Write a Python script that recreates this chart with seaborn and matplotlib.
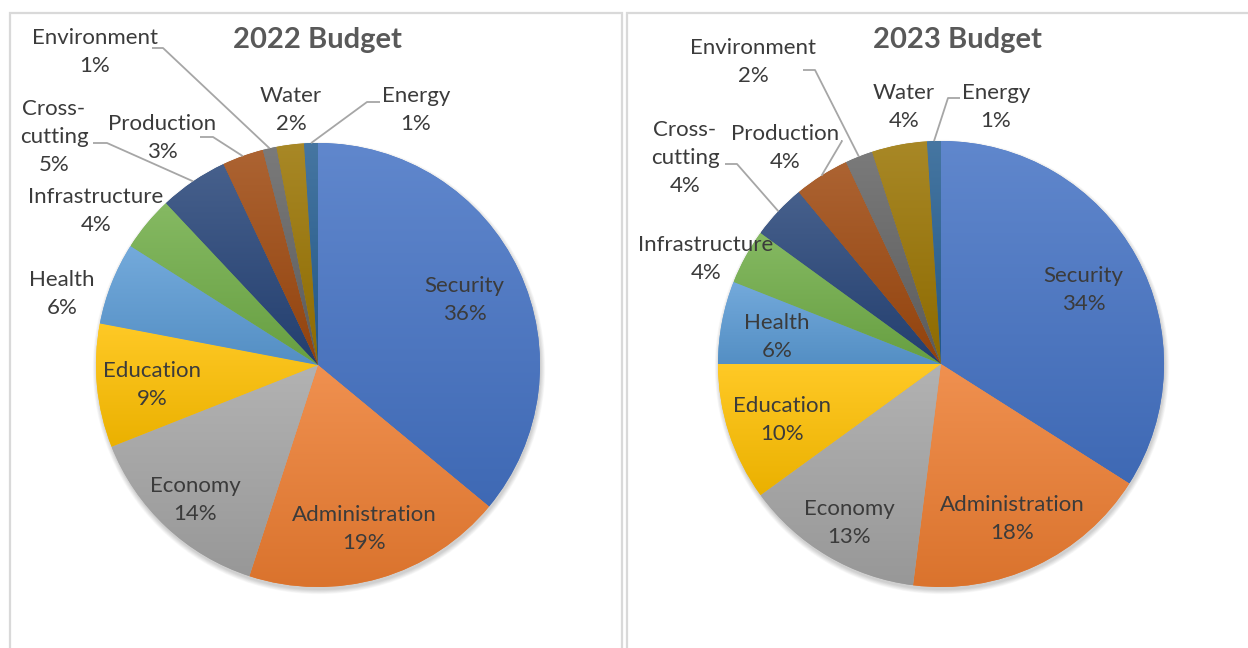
import numpy as np
import matplotlib
matplotlib.use("Agg")
import matplotlib.pyplot as plt
import matplotlib.colors as mcolors
from matplotlib.patches import Rectangle, Circle
import seaborn as sns

# ---- data -------------------------------------------------------------
categories = ["Security", "Administration", "Economy", "Education", "Health",
              "Infrastructure", "Cross-cutting", "Production", "Environment",
              "Water", "Energy"]
budget_2022 = [36, 19, 14, 9, 6, 4, 5, 3, 1, 2, 1]
budget_2023 = [34, 18, 13, 10, 6, 4, 4, 4, 2, 4, 1]
titles = ["2022 Budget", "2023 Budget"]

slice_colors = ["#4472C4", "#ED7D31", "#A5A5A5", "#FFC000", "#5B9BD5",
                "#70AD47", "#264478", "#9E480E", "#636363", "#997300",
                "#255E91"]

# ---- layout (pixel space, y measured from the top) ---------------------
W, H = 1248, 648
sns.set_theme(style="white")
plt.rcParams["font.family"] = ["Lato", "DejaVu Sans"]

TEXT = "#3B3B3B"
TITLE = "#595959"
LEADER = "#A6A6A6"
LABEL_SIZE = 16
LINE_SPACING = 1.5

charts = [
    dict(values=budget_2022, title=titles[0], center=(318, 365), radius=222,
         title_xy=(317, 40), panel=(10, 13, 612),
         outside={
             "Health": ((62, 294), None),
             "Infrastructure": ((96, 211), None),
             "Cross-cutting": ((54, 137), [(93, 143), (107, 143)]),
             "Production": ((162, 138), [(200, 137), (213, 137)]),
             "Environment": ((95, 52), [(152, 48), (163, 48)]),
             "Water": ((291, 110), None),
             "Energy": ((416, 110), [(380, 102), (367, 102)]),
         }),
    dict(values=budget_2023, title=titles[1], center=(941, 364), radius=223,
         title_xy=(957, 40), panel=(627, 13, 640),
         outside={
             "Infrastructure": ((706, 259), None),
             "Cross-cutting": ((685, 158), [(725, 164), (737, 164)]),
             "Production": ((785, 148), [(841, 141), (842, 141)]),
             "Environment": ((753, 62), [(803, 70), (815, 70)]),
             "Water": ((904, 107), None),
             "Energy": ((996, 107), [(960, 98), (948, 98)]),
         }),
]
# radial position of labels that sit inside their slice (fraction of radius)
inner_radius = {"Economy": 0.81, "Security": 0.73}


def up(y):
    return H - y


def display_name(cat):
    return "Cross-\ncutting" if cat == "Cross-cutting" else cat


def tint(color, amount):
    rgb = np.array(mcolors.to_rgb(color))
    return rgb + (1 - rgb) * amount


def shade(color, amount):
    return np.array(mcolors.to_rgb(color)) * (1 - amount)


fig = plt.figure(figsize=(W / 100, H / 100), dpi=100)
ax = fig.add_axes([0, 0, 1, 1])

for ch in charts:
    cx, cy = ch["center"]
    R = ch["radius"]
    px, py, pw = ch["panel"]
    # chart panel frame
    ax.add_patch(Rectangle((px, up(H + 20)), pw, (H + 20) - py,
                           facecolor="white", edgecolor="#D9D9D9", lw=1.6,
                           zorder=0))
    # soft drop shadow under the pie
    for i in range(8):
        ax.add_patch(Circle((cx + 1, up(cy) - 3), R + 0.6 * i,
                            facecolor="#000000", edgecolor="none",
                            alpha=0.025, zorder=1))

    wedges, _ = ax.pie(ch["values"], colors=slice_colors, startangle=90,
                       counterclock=False, center=(cx, up(cy)), radius=R,
                       wedgeprops=dict(edgecolor="none", linewidth=0))

    # vertical gradient fill inside each wedge
    for w, col in zip(wedges, slice_colors):
        w.set_zorder(2)
        ext = w.get_path().get_extents()
        top = tint(col, 0.15)
        bot = shade(col, 0.08)
        t = np.linspace(0, 1, 256)[:, None]
        grad = (top[None, :] * (1 - t) + bot[None, :] * t)[:, None, :]
        im = ax.imshow(grad, extent=(ext.x0, ext.x1, ext.y0, ext.y1),
                       origin="upper", aspect="auto", interpolation="bilinear",
                       zorder=3)
        im.set_clip_path(w)

    total = float(sum(ch["values"]))
    cum = 0.0
    for cat, v, w in zip(categories, ch["values"], wedges):
        mid = np.deg2rad(90 - (cum + v / 2) / total * 360)
        cum += v
        label = f"{display_name(cat)}\n{v}%"
        if cat in ch["outside"]:
            (lx, ly), leader = ch["outside"][cat]
            ax.text(lx, up(ly), label, ha="center", va="center",
                    fontsize=LABEL_SIZE, color=TEXT, linespacing=LINE_SPACING,
                    zorder=6)
            if leader is not None:
                ax_pt = (cx + R * np.cos(mid), up(cy) + R * np.sin(mid))
                xs = [leader[0][0], leader[1][0], ax_pt[0]]
                ys = [up(leader[0][1]), up(leader[1][1]), ax_pt[1]]
                ax.plot(xs, ys, color=LEADER, lw=1.3, zorder=5,
                        solid_capstyle="butt")
        else:
            f = inner_radius.get(cat, 0.75)
            ax.text(cx + f * R * np.cos(mid), up(cy) + f * R * np.sin(mid) - 4,
                    label, ha="center", va="center", fontsize=LABEL_SIZE,
                    color=TEXT, linespacing=LINE_SPACING, zorder=6)

    tx, ty = ch["title_xy"]
    ax.text(tx, up(ty), ch["title"], ha="center", va="center", fontsize=21,
            fontweight="bold", color=TITLE, zorder=6)

ax.set_xlim(0, W)
ax.set_ylim(0, H)
ax.set_aspect("equal", adjustable="box")
ax.set_axis_off()

fig.savefig("out.png", dpi=100, facecolor="white")
